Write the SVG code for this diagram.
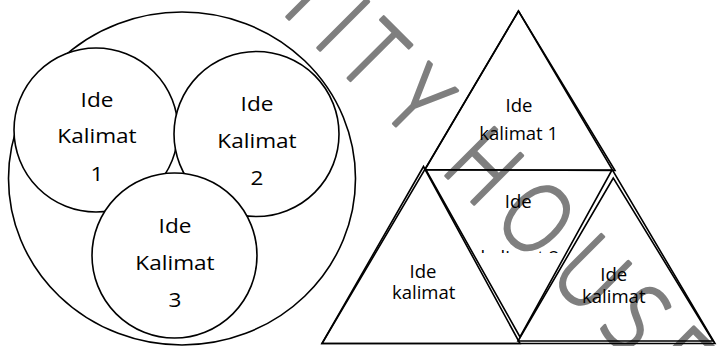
<svg xmlns="http://www.w3.org/2000/svg" width="721" height="346" viewBox="0 0 721 346">
<style>
.shape{fill:#fff;stroke:#000;stroke-width:1.6}
.tri{fill:none;stroke:#000;stroke-width:1.6;stroke-linejoin:miter}
.lbl{font-family:"Open Sans","Liberation Sans",sans-serif;font-size:20px;fill:#000;text-anchor:middle}
.tl{font-family:"Open Sans","Liberation Sans",sans-serif;font-size:17.5px;fill:#000;text-anchor:middle}
.wm{font-family:"Open Sans","Liberation Sans",sans-serif;font-size:96px;font-weight:350;fill:#7f7f7f;stroke:#7f7f7f;stroke-width:3;stroke-linejoin:round}
</style>
<defs>
<clipPath id="clipK2"><rect x="440" y="200" width="160" height="53"/></clipPath>
</defs>
<rect width="721" height="346" fill="#fff"/>
<g id="watermark">
<text class="wm" transform="translate(288,18) rotate(45) scale(0.82,1)" x="-12.2 41.5 80.5 158.5 231.7 262.2 350.6 447.5 532.9 606.1" y="0">IITY HOUSE</text>
</g>
<g id="venn">
<g id="outer"><ellipse class="shape" cx="182" cy="178.5" rx="173.5" ry="166.5"/></g>
<g id="ide1">
<circle class="shape" cx="96" cy="130" r="82"/>
<text class="lbl" transform="translate(97,107) scale(1.13,1)">Ide</text>
<text class="lbl" transform="translate(97,143) scale(1.13,1)">Kalimat</text>
<text class="lbl" transform="translate(97,181) scale(1.13,1)">1</text>
</g>
<g id="ide2">
<circle class="shape" cx="256.5" cy="134" r="82.5"/>
<text class="lbl" transform="translate(257,111) scale(1.13,1)">Ide</text>
<text class="lbl" transform="translate(257,147.5) scale(1.13,1)">Kalimat</text>
<text class="lbl" transform="translate(257,185) scale(1.13,1)">2</text>
</g>
<g id="ide3">
<circle class="shape" cx="174.5" cy="255.5" r="82.5"/>
<text class="lbl" transform="translate(175,233) scale(1.13,1)">Ide</text>
<text class="lbl" transform="translate(175,269.5) scale(1.13,1)">Kalimat</text>
<text class="lbl" transform="translate(175,307) scale(1.13,1)">3</text>
</g>
</g>
<g id="pyramid">
<g id="outerTri"><polygon class="tri" points="518.5,11 322,343.5 715,343.5"/></g>
<g id="tri1">
<polygon class="tri" points="518.5,11 425,169.5 615,170.5"/>
<text class="tl" transform="translate(519,111.7) scale(1.06,1)">Ide</text>
<text class="tl" transform="translate(518.7,140) scale(1.06,1)">kalimat 1</text>
</g>
<g id="tri2">
<polygon class="tri" points="423.5,166.5 322,343.5 520,343.5"/>
<text class="tl" transform="translate(423,278.3) scale(1.06,1)">Ide</text>
<text class="tl" transform="translate(423.7,298.5) scale(1.06,1)">kalimat</text>
</g>
<g id="tri3">
<polygon class="tri" points="426,170 612,170 520,337"/>
<text class="tl" transform="translate(518.3,208.3) scale(1.06,1)">Ide</text>
<g clip-path="url(#clipK2)"><text class="tl" transform="translate(520,264) scale(1.06,1)">kalimat 2</text></g>
</g>
<g id="tri4">
<polygon class="tri" points="613.3,178 518,341 713,341"/>
<text class="tl" transform="translate(613.7,281) scale(1.06,1)">Ide</text>
<text class="tl" transform="translate(613.8,303.3) scale(1.06,1)">kalimat</text>
</g>
</g>
<g id="connectors"/>
</svg>
